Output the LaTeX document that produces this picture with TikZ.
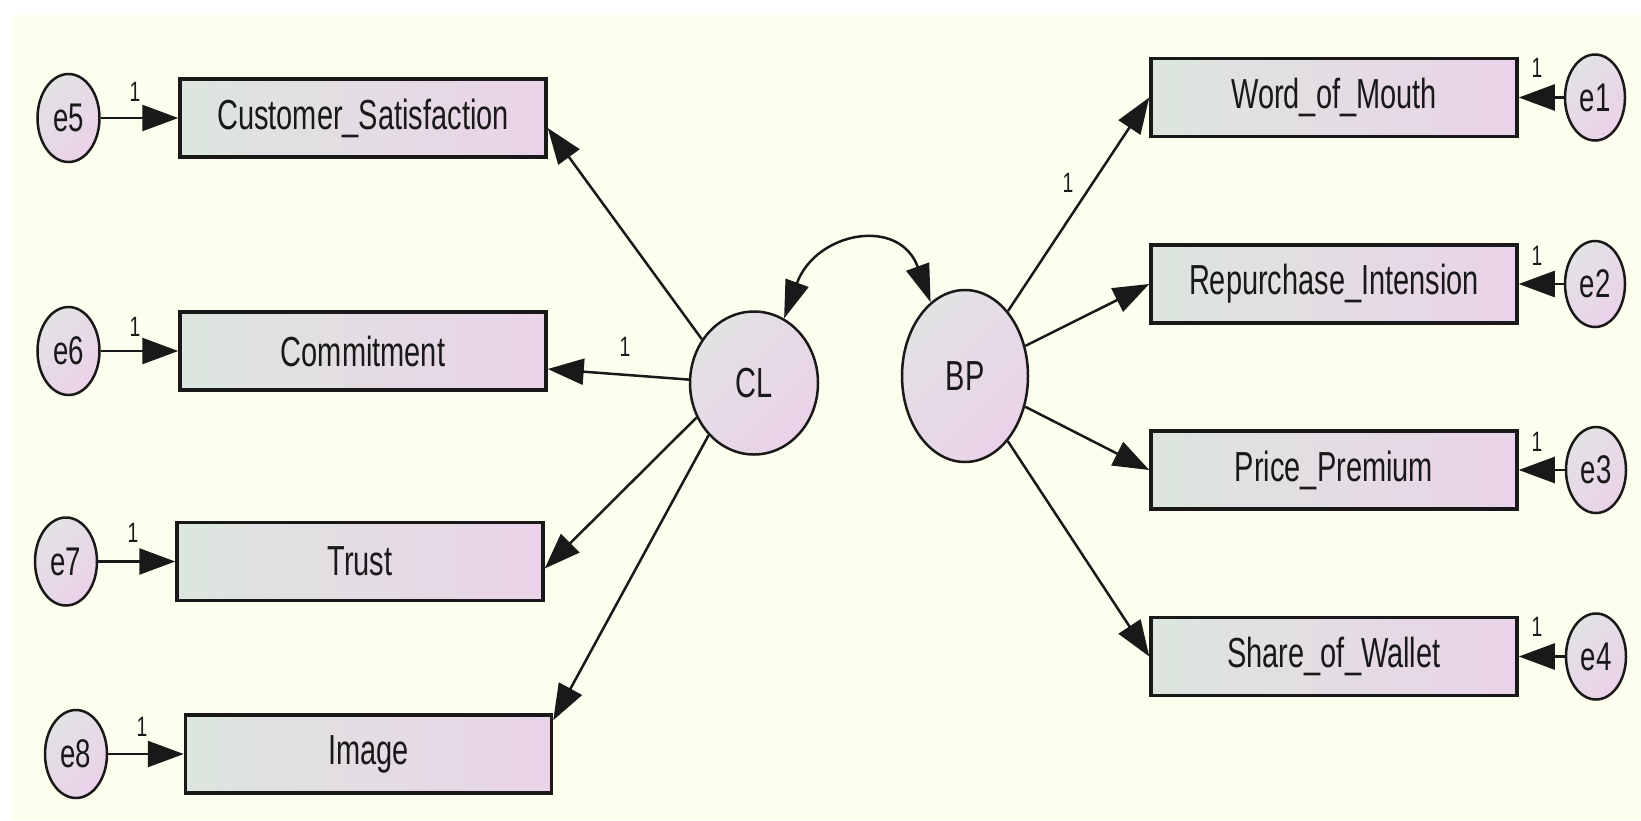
\documentclass[tikz,border=0pt]{standalone}
\usepackage{fontspec}
\usetikzlibrary{arrows.meta,shapes.geometric}
\newfontfamily\diagfont[FakeStretch=0.69]{Liberation Sans}
\definecolor{cream}{RGB}{253,254,238}
\definecolor{boxL}{RGB}{220,230,222}
\definecolor{boxR}{RGB}{234,211,232}
\definecolor{ellA}{RGB}{226,226,228}
\definecolor{ellB}{RGB}{234,210,232}
\definecolor{ink}{RGB}{25,25,25}
\begin{document}
\begin{tikzpicture}[x=1pt,y=-1pt,
  obs/.style={rectangle, draw=ink, line width=3.5pt, left color=boxL, right color=boxR,
    minimum width=366pt, minimum height=78pt, inner sep=0pt, text=ink,
    font=\fontsize{42pt}{44pt}\diagfont},
  lat/.style={ellipse, draw=ink, line width=2.5pt, top color=ellA, bottom color=ellB,
    shading angle=45, inner sep=0pt, text=ink, font=\fontsize{42pt}{44pt}\diagfont},
  err/.style={lat, minimum width=62pt, minimum height=88pt, font=\fontsize{40pt}{42pt}\diagfont},
  conn/.style={draw=ink, line width=2.5pt, -{Triangle[length=36pt,width=26pt]}},
  both/.style={draw=ink, line width=2.5pt, {Triangle[length=38pt,width=24pt]}-{Triangle[length=38pt,width=24pt]}},
  one/.style={text=ink, font=\fontsize{28pt}{30pt}\diagfont, inner sep=0pt},
]
\useasboundingbox (0,0) rectangle (1641,820);
\fill[white] (0,0) rectangle (1641,820);
\fill[cream] (12,15) rectangle (1641,820);

% observed variables
\node[obs] (CS)  at (363,118)   {Customer\_Satisfaction};
\node[obs] (Com) at (363,351)   {Commitment};
\node[obs] (Tr)  at (360,561.5) {Trust};
\node[obs] (Img) at (368.5,754) {Image};
\node[obs] (WoM) at (1334,97.5) {Word\_of\_Mouth};
\node[obs] (Rep) at (1334,284)  {Repurchase\_Intension};
\node[obs] (PP)  at (1334,470)  {Price\_Premium};
\node[obs] (SoW) at (1334,656.5){Share\_of\_Wallet};

% latent variables
\node[lat, minimum width=128pt, minimum height=143pt] (CL) at (754,383) {CL};
\node[lat, minimum width=126pt, minimum height=172pt] (BP) at (965,376) {BP};

% error terms
\node[err] (e5) at (68.5,118) {e5};
\node[err] (e6) at (68.5,351) {e6};
\node[err] (e7) at (66,561.5) {e7};
\node[err] (e8) at (76,754) {e8};
\node[err, minimum width=60pt, minimum height=86pt] (e1) at (1595,97.5) {e1};
\node[err, minimum width=60pt, minimum height=86pt] (e2) at (1595,284) {e2};
\node[err, minimum width=60pt, minimum height=86pt] (e3) at (1596,470) {e3};
\node[err, minimum width=60pt, minimum height=86pt] (e4) at (1596,656.5) {e4};

% error arrows
\draw[conn] (e5) -- (CS);
\draw[conn] (e6) -- (Com);
\draw[conn] (e7) -- (Tr);
\draw[conn] (e8) -- (Img);
\draw[conn] (e1) -- (WoM);
\draw[conn] (e2) -- (Rep);
\draw[conn] (e3) -- (PP);
\draw[conn] (e4) -- (SoW);

% loadings
\draw[conn] (CL.140) -- ([yshift=-10pt]CS.east);
\draw[conn] (CL.177) -- ([yshift=-18pt]Com.east);
\draw[conn] (CL.211) -- ([yshift=-7pt]Tr.east);
\draw[conn] (CL.229) -- ([yshift=-7pt]Img.north east);
\draw[conn] (BP) -- (WoM.west);
\draw[conn] (BP) -- (Rep.west);
\draw[conn] (BP) -- (PP.west);
\draw[conn] (BP) -- (SoW.west);

% covariance
\draw[both] (CL.65) .. controls +(70:92pt) and +(110:92pt) .. (BP.115);

% fixed parameters
\node[one] (l5) at (135,92) {1};
\node[one] (l6) at (135,327) {1};
\node[one] (l7) at (133,533) {1};
\node[one] (l8) at (142,727) {1};
\node[one] (l1) at (1537,68) {1};
\node[one] (l2) at (1537,256) {1};
\node[one] (l3) at (1537,442) {1};
\node[one] (l4) at (1537,627) {1};
\node[one] (lc) at (625,347) {1};
\node[one] (lb) at (1068,183) {1};
\end{tikzpicture}
\end{document}
